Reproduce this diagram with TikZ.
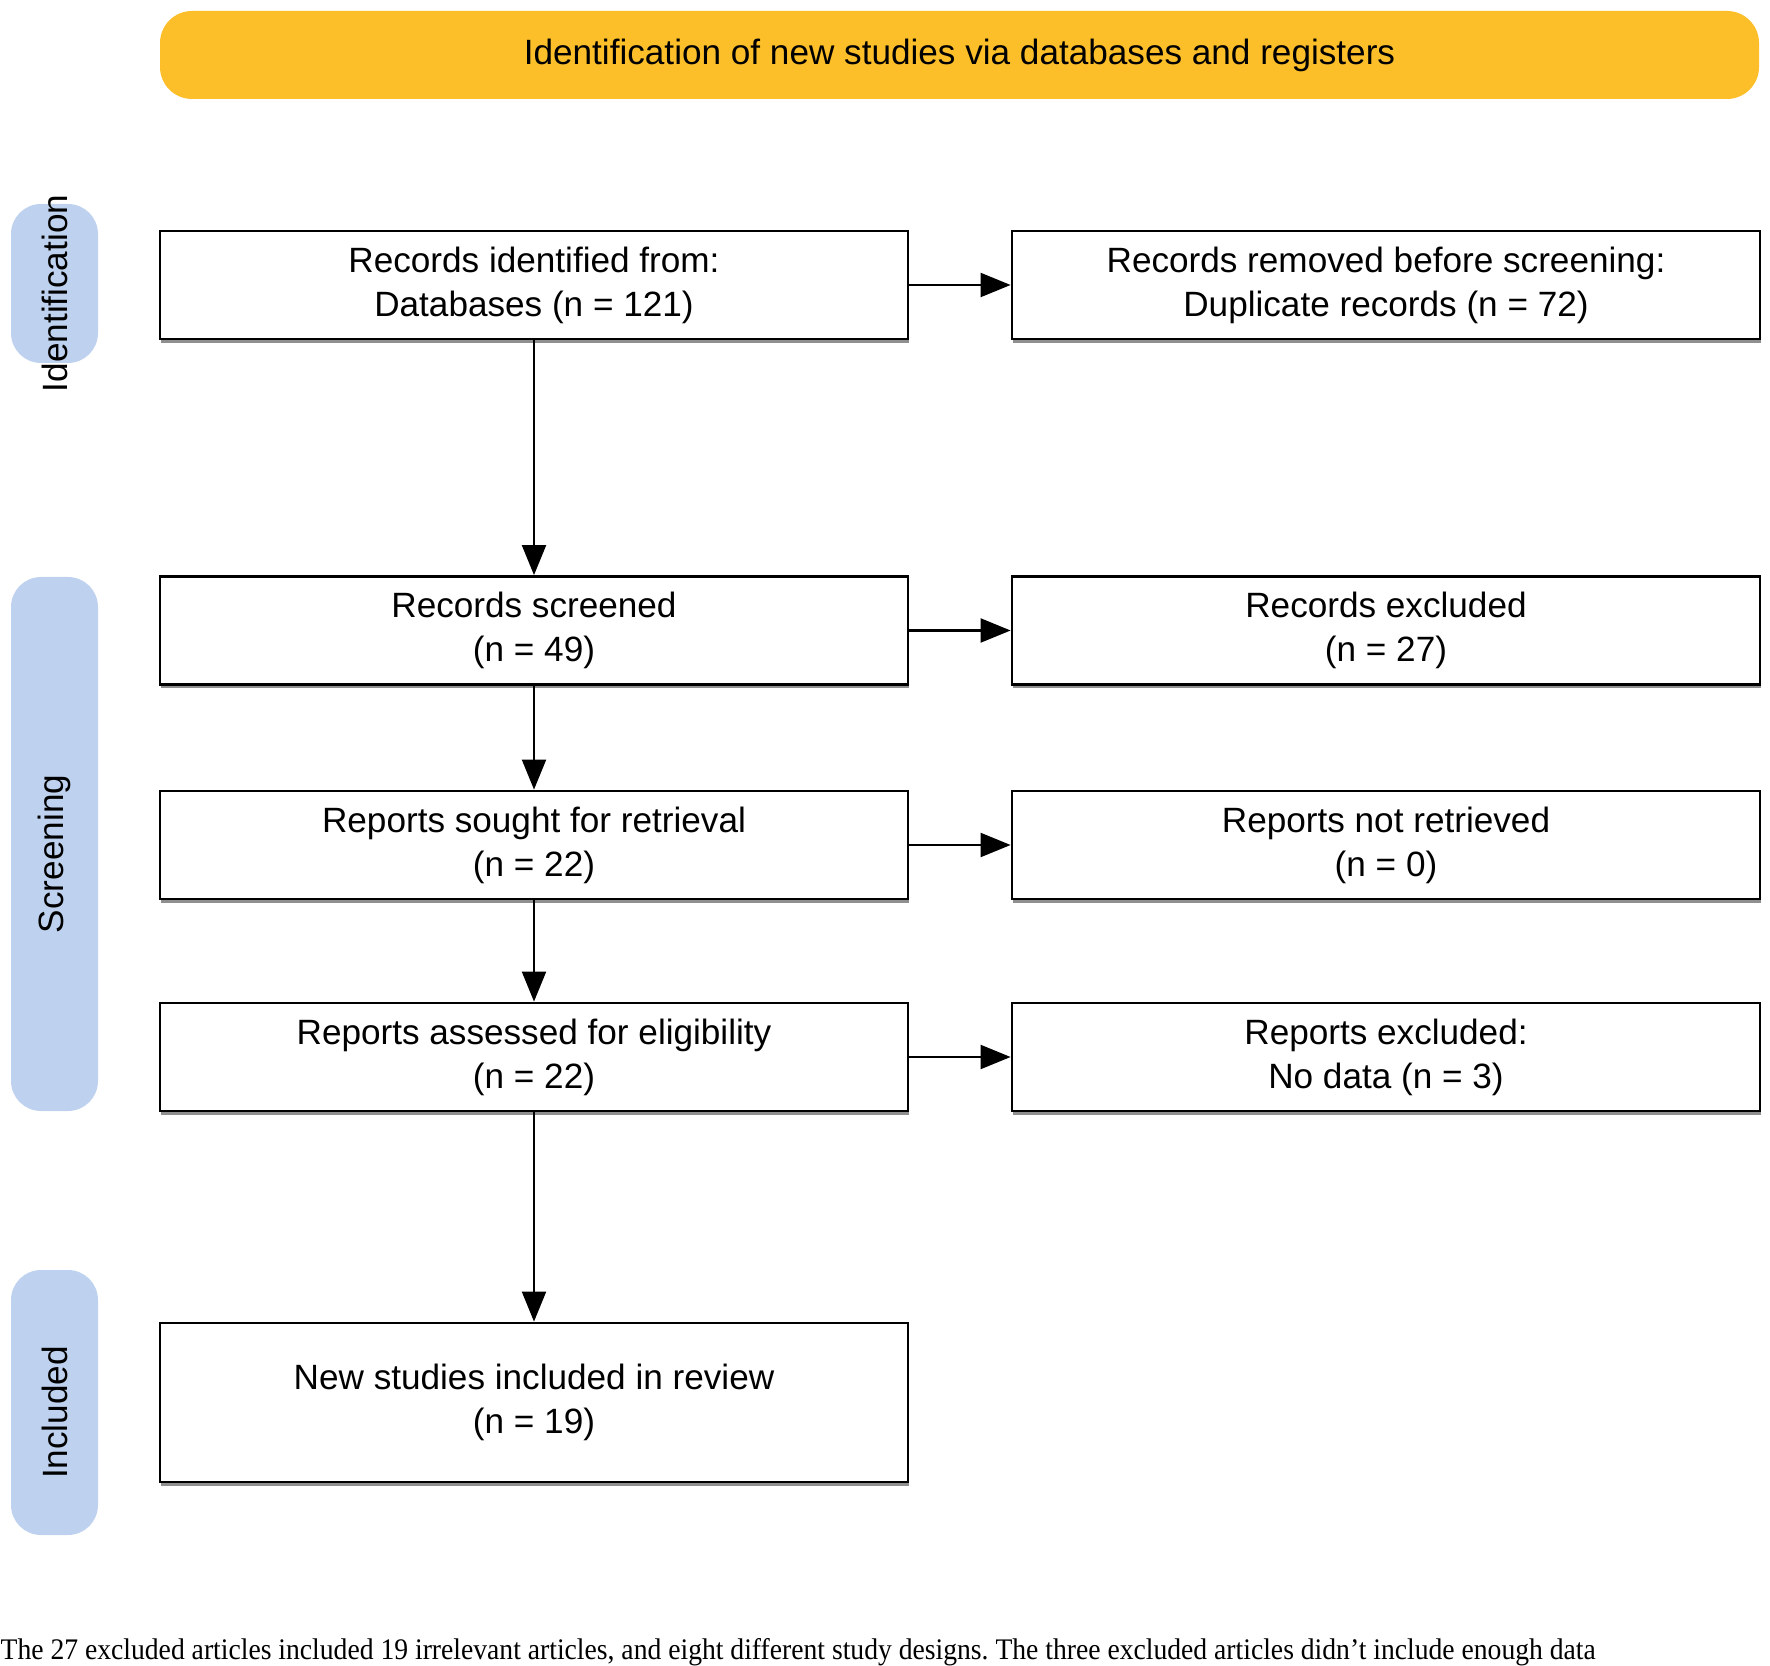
\documentclass[tikz,border=0pt]{standalone}
\usepackage{fontspec}
\setmainfont{Liberation Sans}
\newfontfamily\captionserif{Liberation Serif}
\usepackage{tikz}
\usetikzlibrary{arrows.meta, positioning, shadows}
\frenchspacing

\definecolor{bannery}{RGB}{252,191,41}
\definecolor{phaseblue}{RGB}{190,210,239}

\begin{document}
\begin{tikzpicture}[
    >={Triangle[length=0.3cm, width=0.24cm]},
    recbox/.style={
        rectangle, draw=black, line width=0.8pt, fill=white,
        minimum width=7.48cm, minimum height=1.08cm, align=center,
        font=\fontsize{10}{12.5}\selectfont, inner sep=2pt,
        drop shadow={shadow xshift=0.4pt, shadow yshift=-1pt, fill=black!55, opacity=0.8}
    },
    banner/.style={
        rectangle, rounded corners=0.32cm, fill=bannery,
        minimum width=15.99cm, minimum height=0.88cm, font=\fontsize{10}{12}\selectfont
    },
    phase/.style={rectangle, rounded corners=0.3cm, fill=phaseblue, minimum width=0.87cm, inner sep=0pt},
    phaselbl/.style={rotate=90, font=\fontsize{10}{12}\selectfont, inner sep=0pt},
    flow/.style={->, line width=0.6pt, black},
    note/.style={font=\captionserif\fontsize{8.5}{10}\selectfont, inner sep=0pt, xscale=0.925},
]
\useasboundingbox (0,0) rectangle (17.70,16.65);

% ── Header ──
\node[banner] (head) at (9.595,16.10) {Identification of new studies via databases and registers};

% ── Phase bars ──
\node[phase, minimum height=1.59cm] (idbar)  at (0.545,13.815) {};
\node[phase, minimum height=5.34cm] (scrbar) at (0.545,8.21)   {};
\node[phase, minimum height=2.65cm] (incbar) at (0.545,2.625)  {};
\node[phaselbl] (idtxt)  at ([yshift=-0.1cm]idbar.center)  {Identification};
\node[phaselbl] (scrtxt) at ([yshift=-0.1cm]scrbar.center) {Screening};
\node[phaselbl] (inctxt) at ([yshift=-0.1cm]incbar.center) {Included};

% ── Main column ──
\node[recbox] (ident)  at (5.34,13.80)  {Records identified from:\\Databases (n = 121)};
\node[recbox] (screen) at (5.34,10.345) {Records screened\\(n = 49)};
\node[recbox] (sought) at (5.34,8.20)   {Reports sought for retrieval\\(n = 22)};
\node[recbox] (elig)   at (5.34,6.08)   {Reports assessed for eligibility\\(n = 22)};
\node[recbox, minimum height=1.59cm] (incl) at (5.34,2.625) {New studies included in review\\(n = 19)};

% ── Side column ──
\node[recbox] (removed)  at (13.86,13.80)  {Records removed before screening:\\Duplicate records (n = 72)};
\node[recbox] (excluded) at (13.86,10.345) {Records excluded\\(n = 27)};
\node[recbox] (notret)   at (13.86,8.20)   {Reports not retrieved\\(n = 0)};
\node[recbox] (repexcl)  at (13.86,6.08)   {Reports excluded:\\No data (n = 3)};

% ── Arrows ──
\draw[flow] (ident) -- (screen);
\draw[flow] (screen) -- (sought);
\draw[flow] (sought) -- (elig);
\draw[flow] (elig) -- (incl);
\draw[flow] (ident) -- (removed);
\draw[flow] (screen) -- (excluded);
\draw[flow] (sought) -- (notret);
\draw[flow] (elig) -- (repexcl);

% ── Footnote ──
\node[note, anchor=base west] (foot) at (0,0.06) {The 27 excluded articles included 19 irrelevant articles, and eight different study designs. The three excluded articles didn’t include enough data};

\end{tikzpicture}
\end{document}
